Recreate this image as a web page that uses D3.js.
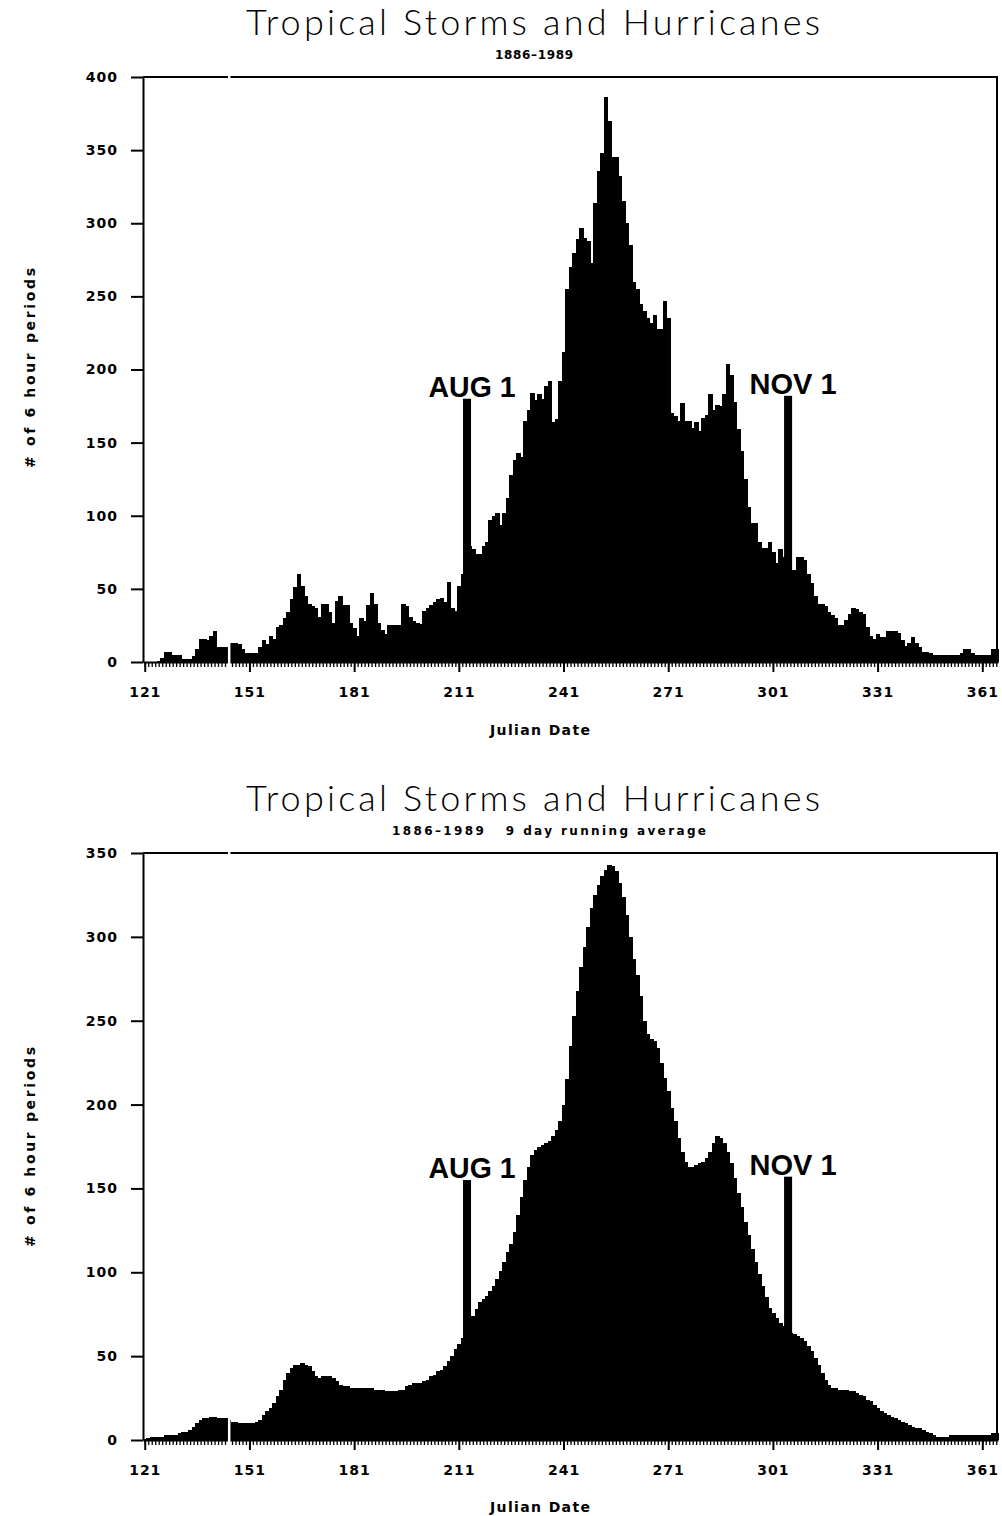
<!DOCTYPE html>
<html><head><meta charset="utf-8">
<script src="https://cdn.jsdelivr.net/npm/d3@7"></script>
<style>
body{margin:0;background:#fff}
.tick text{font-family:"DejaVu Sans",sans-serif;font-weight:bold;font-size:14px;letter-spacing:1px;fill:#000}
</style>
</head><body>
<svg id="chart" width="1002" height="1516"></svg>
<script>
// ---------------- DATA ----------------
const firstDay = 121; // Julian day of first bar
// daily number of 6-hour periods with tropical storms / hurricanes, days 121..365
const dailyCounts = [
  0,0,0,0,1,3,7,7,5,5,
  5,2,2,2,4,9,16,16,15,18,
  21,10,10,10,10,13,13,12,9,6,
  6,6,6,10,15,12,18,16,24,25,
  30,34,43,51,60,52,45,40,38,37,
  31,40,40,34,27,42,45,39,39,27,
  23,18,30,28,39,47,40,27,22,19,
  25,25,25,25,40,38,31,28,27,26,
  35,37,39,41,43,44,41,55,37,35,
  52,60,75,79,77,74,74,79,82,97,
  100,102,94,102,112,128,138,143,140,165,
  172,184,179,183,180,189,192,164,166,192,
  212,255,270,280,289,297,290,288,273,314,
  336,348,386,370,345,345,332,315,300,285,
  260,255,245,240,235,232,237,228,228,247,
  235,170,168,165,177,165,165,160,164,158,
  167,169,183,172,176,175,183,204,196,178,
  159,144,125,106,95,95,82,78,78,82,
  75,68,77,72,65,63,63,72,72,70,
  60,54,45,40,40,38,34,32,30,25,
  25,29,33,37,36,34,33,24,18,16,
  19,17,17,21,21,21,20,15,11,13,
  17,13,10,7,7,6,5,5,5,5,
  5,5,5,5,6,9,9,6,5,5,
  5,5,5,9,9
];
// 9-day running average, days 121..365
const runningAvg9 = [
  0.5,1,2,2,2,2,3,3,3,3,
  4,5,5,6,8,10,12,13,13,14,
  14,13,13,13,12,11,11,10,10,10,
  10,10,11,12,15,17,19,22,26,30,
  36,40,43,45,45,46,45,44,41,38,
  37,38,38,38,37,35,33,32,32,31,
  31,31,31,31,31,31,30,30,30,29,
  29,29,29,30,30,32,33,34,34,34,
  35,36,38,39,41,42,44,47,50,54,
  57,61,64,68,74,78,82,84,86,89,
  92,96,101,106,112,117,124,134,145,155,
  163,170,173,175,176,177,178,181,185,190,
  200,215,235,253,268,282,294,306,317,325,
  331,336,340,343,342,339,332,324,313,300,
  287,277,265,250,242,239,238,234,225,216,
  208,198,190,180,172,166,163,163,164,165,
  166,168,172,177,181,180,177,172,165,156,
  147,139,130,122,114,106,99,92,85,79,
  76,73,70,68,66,64,63,62,61,59,
  56,53,49,45,40,36,33,31,31,30,
  30,30,29,29,28,27,26,24,23,21,
  19,17,16,15,14,13,12,11,10,9,
  8,7,7,6,5,4,3,2,2,2,
  2,3,3,3,3,3,3,3,3,3,
  3,3,3,4,4
];
const xTickValues = [121,151,181,211,241,271,301,331,361];
const yTicksTop = [0,50,100,150,200,250,300,350,400];
const yTicksBottom = [0,50,100,150,200,250,300,350];
const markerLabels = ["AUG 1","NOV 1"];
const markerDays = [213,305];
const markerHeightsTop = [180,182];
const markerHeightsBottom = [155,157];
const titleText = "Tropical Storms and Hurricanes";
const subtitleTop = "1886\u20131989";
const subtitleBottom = "1886\u20131989   9 day running average";
const xAxisTitle = "Julian Date";
const yAxisTitle = "# of 6 hour periods";

// ---------------- DRAW ----------------
const svg = d3.select("#chart");
const left = 143, right = 998;

function drawPanel(cfg){
  const n = cfg.values.length;
  const x = d3.scaleLinear().domain([firstDay-0.5, firstDay+n-0.5]).range([left, right]);
  const y = d3.scaleLinear().domain([0, cfg.yMax]).range([cfg.bottom, cfg.top]);
  const g = svg.append("g");

  // title & subtitle
  g.append("text").text(titleText)
    .attr("x", 533).attr("y", cfg.titleY).attr("text-anchor","middle")
    .attr("textLength", 574).attr("lengthAdjust","spacing")
    .style("font-family","Lato, 'Open Sans', sans-serif").style("font-weight",300)
    .style("font-size","36px").style("fill","#000");
  g.append("text").text(cfg.subtitle)
    .attr("x", cfg.subX).attr("y", cfg.subY).attr("text-anchor","middle")
    .attr("textLength", cfg.subLen).attr("lengthAdjust","spacing")
    .style("white-space","pre")
    .style("font-family","'DejaVu Sans', sans-serif").style("font-weight","bold")
    .style("font-size","12px").style("fill","#000");

  // bars
  const days = d3.range(firstDay, firstDay+n);
  g.append("g").attr("shape-rendering","crispEdges")
    .selectAll("rect").data(cfg.values).join("rect")
    .attr("x", (d,i)=>x(firstDay+i-0.5))
    .attr("width", (d,i)=>x(firstDay+i+0.5)-x(firstDay+i-0.5)+1)
    .attr("y", d=>y(d))
    .attr("height", d=>y(0)-y(d))
    .attr("fill","#000");

  // month markers
  const mg = g.append("g");
  markerDays.forEach((md,i)=>{
    const xc = x(md+0.35);
    const w = x(md+2.3)-x(md);
    mg.append("rect")
      .attr("x", xc-w/2).attr("width", w)
      .attr("y", y(cfg.markerHeights[i])).attr("height", y(0)-y(cfg.markerHeights[i]))
      .attr("fill","#000");
    mg.append("text").text(markerLabels[i])
      .attr("x", xc+5).attr("y", y(cfg.markerHeights[i])-2)
      .attr("text-anchor","middle")
      .attr("textLength", 87).attr("lengthAdjust","spacingAndGlyphs")
      .style("font-family","'Liberation Sans', Arial, sans-serif").style("font-weight","bold")
      .style("font-size","30px").style("fill","#000");
  });

  // frame (top + right)
  g.append("path")
    .attr("d", `M${left},${cfg.top}H${right-1}V${cfg.bottom}`)
    .attr("fill","none").attr("stroke","#000").attr("stroke-width",2);

  // x axis minor ticks (every day)
  g.append("g").attr("transform",`translate(0,${cfg.bottom})`)
    .call(d3.axisBottom(x).tickValues(days).tickSize(5).tickSizeOuter(0).tickFormat(""))
    .call(s=>{s.select(".domain").remove(); s.selectAll("line").attr("stroke","#000").attr("stroke-width",1.3);});
  // x axis major
  g.append("g").attr("transform",`translate(0,${cfg.bottom})`)
    .call(d3.axisBottom(x).tickValues(xTickValues).tickSize(10).tickSizeOuter(0).tickPadding(15).tickFormat(d3.format("d")))
    .call(s=>{s.select(".domain").attr("stroke","#000").attr("stroke-width",2);
              s.selectAll("line").attr("stroke","#000").attr("stroke-width",2);});

  // y axis
  g.append("g").attr("transform",`translate(${left},0)`)
    .call(d3.axisLeft(y).tickValues(cfg.yTicks).tickSize(12).tickSizeOuter(0).tickPadding(13).tickFormat(d3.format("d")))
    .call(s=>{s.select(".domain").attr("stroke","#000").attr("stroke-width",2);
              s.selectAll("line").attr("stroke","#000").attr("stroke-width",2);});

  // axis titles
  g.append("text").text(xAxisTitle)
    .attr("x", 540).attr("y", cfg.xTitleY).attr("text-anchor","middle")
    .attr("textLength", 100).attr("lengthAdjust","spacing")
    .style("font-family","'DejaVu Sans', sans-serif").style("font-weight","bold")
    .style("font-size","14px").style("fill","#000");
  g.append("text").text(yAxisTitle)
    .attr("transform", `translate(35,${cfg.yTitleCY}) rotate(-90)`)
    .attr("text-anchor","middle")
    .attr("textLength", 200).attr("lengthAdjust","spacing")
    .style("font-family","'DejaVu Sans', sans-serif").style("font-weight","bold")
    .style("font-size","14px").style("fill","#000");

  // scan seam (white vertical break visible in the original)
  g.append("line")
    .attr("x1", x(145.2)).attr("x2", x(145.2))
    .attr("y1", cfg.top-3).attr("y2", cfg.bottom+14)
    .attr("stroke","#fff").attr("stroke-width",2.5);
}

drawPanel({values: dailyCounts, yMax: 400, yTicks: yTicksTop, top: 77, bottom: 662,
  titleY: 35, subtitle: subtitleTop, subX: 534, subY: 59, subLen: 78,
  xTitleY: 735, yTitleCY: 368, markerHeights: markerHeightsTop});
drawPanel({values: runningAvg9, yMax: 350, yTicks: yTicksBottom, top: 853, bottom: 1440,
  titleY: 811, subtitle: subtitleBottom, subX: 549, subY: 835, subLen: 314,
  xTitleY: 1512, yTitleCY: 1147, markerHeights: markerHeightsBottom});
</script>
</body></html>
